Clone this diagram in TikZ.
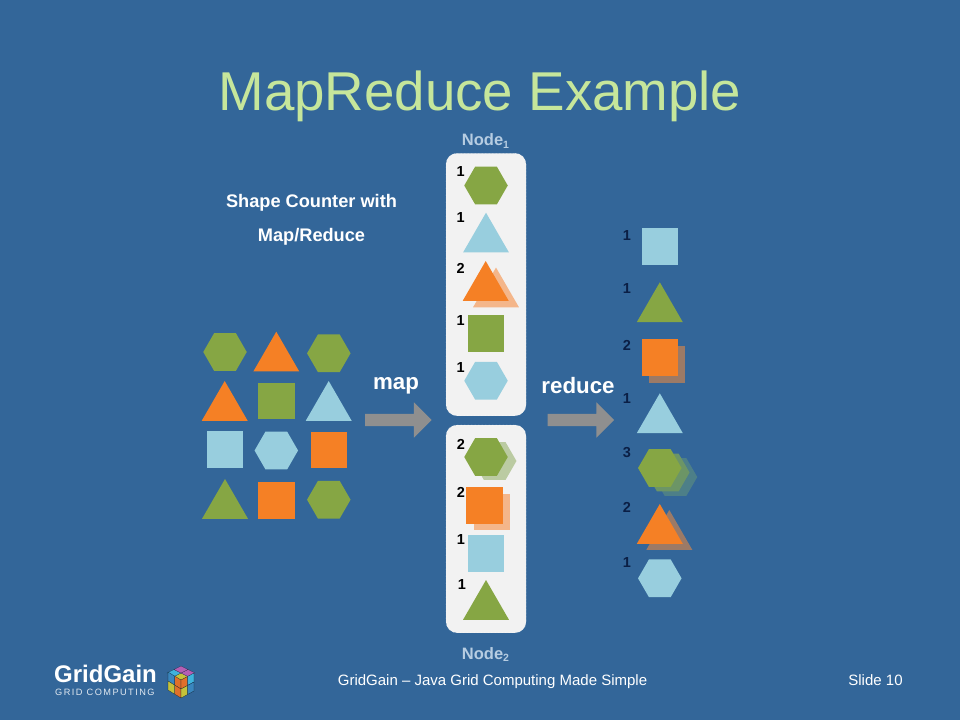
\documentclass[tikz,border=0pt]{standalone}
\usepackage{fontspec}
\setmainfont{Liberation Sans}
\usetikzlibrary{shapes.geometric, shapes.arrows}
\definecolor{slidebg}{HTML}{336699}
\definecolor{titlegreen}{HTML}{C6E69B}
\definecolor{nodegray}{HTML}{B7CDE2}
\definecolor{sgreen}{HTML}{86A644}
\definecolor{sorange}{HTML}{F58025}
\definecolor{sblue}{HTML}{98CEDE}
\definecolor{navy}{HTML}{0B1F45}
\definecolor{paleorange}{HTML}{F4B68A}
\definecolor{palegreen}{HTML}{BBCBA2}
\definecolor{darkshade}{HTML}{9C7A66}
\definecolor{hexmid}{HTML}{6C9566}
\definecolor{hexfar}{HTML}{4D7F88}
\definecolor{cubecyan}{HTML}{3FB3DC}
\definecolor{cubepurple}{HTML}{B45FB4}
\definecolor{cubeyellow}{HTML}{C4C23A}
\definecolor{cubeorange}{HTML}{E0702A}
\definecolor{cubeviolet}{HTML}{7A4596}
\definecolor{cubeblue}{HTML}{3A86BE}
\begin{document}
\begin{tikzpicture}[x=1pt,y=-1pt,
  hexa/.style={regular polygon,regular polygon sides=6,minimum size=43.5pt,inner sep=0pt,outer sep=0pt,fill=#1},
  tri/.style={regular polygon,regular polygon sides=3,minimum size=53pt,inner sep=0pt,outer sep=0pt,fill=#1},
  sqr/.style={rectangle,minimum size=36.5pt,inner sep=0pt,outer sep=0pt,fill=#1},
  count/.style={font=\bfseries\fontsize{14.5}{14.5}\selectfont,text=black,inner sep=0pt},
  rcount/.style={count,text=navy},
  bluebox/.style={rounded corners=11pt,fill=black!5,draw=white,densely dotted,minimum width=80pt,inner sep=0pt,outer sep=0pt},
  flow/.style={single arrow,fill=black!44,minimum height=66.5pt,single arrow head extend=11.5pt,inner xsep=0pt,inner ysep=6pt,outer sep=0pt},
  caption/.style={font=\bfseries\fontsize{18.2}{18.2}\selectfont,text=white,inner sep=0pt,anchor=base},
  opname/.style={font=\bfseries\fontsize{22.3}{22.3}\selectfont,text=white,inner sep=0pt,anchor=base},
  nodename/.style={font=\bfseries\fontsize{16.5}{16.5}\selectfont,text=nodegray,inner sep=0pt,anchor=base},
  foot/.style={font=\fontsize{15}{15}\selectfont,text=white,inner sep=0pt,anchor=base},
  tile/.style={fill=#1,draw=black!70!slidebg,line width=0.2pt,line join=round}]
  \fill[slidebg] (0,0) rectangle (960,720);
  \useasboundingbox (0,0) rectangle (960,720);

  \node[font=\fontsize{54.7}{54.7}\selectfont,text=titlegreen,inner sep=0pt,anchor=base] (title) at (480,110) {MapReduce Example};
  \node[caption] (cap1) at (311.5,207.7) {Shape Counter with};
  \node[caption] (cap2) at (311.5,241.7) {Map/Reduce};

  % input grid
  \node[hexa=sgreen] (a1) at (225,352) {};
  \node[tri=sorange] (a2) at (276.3,358.2) {};
  \node[hexa=sgreen] (a3) at (328.8,353.3) {};
  \node[tri=sorange] (b1) at (224.7,407.5) {};
  \node[sqr=sgreen] (b2) at (276.3,400.8) {};
  \node[tri=sblue] (b3) at (328.7,407.5) {};
  \node[sqr=sblue] (c1) at (224.8,449.5) {};
  \node[hexa=sblue] (c2) at (276.3,450.5) {};
  \node[sqr=sorange] (c3) at (328.8,449.8) {};
  \node[tri=sgreen] (d1) at (225,505.5) {};
  \node[sqr=sorange] (d2) at (276.3,500.5) {};
  \node[hexa=sgreen] (d3) at (328.8,499.7) {};

  \node[opname] (map) at (396,389) {map};
  \node[flow] (maparrow) at (395.2,420) {};
  \node[opname] (reduce) at (578,393.3) {reduce};
  \node[flow] (redarrow) at (577.8,420) {};

  % node one
  \node[nodename] (n1) at (485.5,145.7) {Node\raisebox{-2.5pt}{\fontsize{10.5}{10.5}\selectfont 1}};
  \node[bluebox,minimum height=262.5pt] (box1) at (486,284.5) {};
  \node[hexa=sgreen] (p1) at (486,185.5) {};
  \node[tri=sblue] (p2) at (486,239.2) {};
  \node[tri=paleorange] (p3s) at (496,294) {};
  \node[tri=sorange] (p3) at (485.7,287.5) {};
  \node[sqr=sgreen] (p4) at (486,333.7) {};
  \node[hexa=sblue] (p5) at (486,380.7) {};
  \node[count] at (460.7,171.7) {1};
  \node[count] at (460.7,217.7) {1};
  \node[count] at (460.7,268.3) {2};
  \node[count] at (460.7,321) {1};
  \node[count] at (460.7,367.3) {1};

  % node two
  \node[bluebox,minimum height=207.7pt] (box2) at (486,528.9) {};
  \node[nodename] (n2) at (485.5,659) {Node\raisebox{-2.5pt}{\fontsize{10.5}{10.5}\selectfont 2}};
  \node[hexa=palegreen] (q1s) at (494.7,461) {};
  \node[hexa=sgreen] (q1) at (486,457) {};
  \node[sqr=paleorange] (q2s) at (492,512) {};
  \node[sqr=sorange] (q2) at (484.7,505.7) {};
  \node[sqr=sblue] (q3) at (486,553.3) {};
  \node[tri=sgreen] (q4) at (486,606.5) {};
  \node[count] at (461,444.3) {2};
  \node[count] at (461,492.3) {2};
  \node[count] at (461,540) {1};
  \node[count] at (462,585) {1};

  % output column
  \node[sqr=sblue] (r1) at (659.8,246.5) {};
  \node[tri=sgreen] (r2) at (659.8,308.8) {};
  \node[sqr=darkshade] (r3s) at (667,364.3) {};
  \node[sqr=sorange] (r3) at (659.8,357.3) {};
  \node[tri=sblue] (r4) at (659.8,419.8) {};
  \node[hexa=hexfar] (r5t) at (675.5,477) {};
  \node[hexa=hexmid] (r5s) at (667.8,472.5) {};
  \node[hexa=sgreen] (r5) at (659.8,468) {};
  \node[tri=darkshade] (r6s) at (669.3,536.5) {};
  \node[tri=sorange] (r6) at (659.8,530.5) {};
  \node[hexa=sblue] (r7) at (659.8,578.3) {};
  \node[rcount] at (627,235.7) {1};
  \node[rcount] at (627,288.3) {1};
  \node[rcount] at (627,345) {2};
  \node[rcount] at (627,398.3) {1};
  \node[rcount] at (627,452.3) {3};
  \node[rcount] at (627,507.3) {2};
  \node[rcount] at (627,562.3) {1};

  % footer
  \node[font=\bfseries\fontsize{24}{24}\selectfont,text=white,inner sep=0pt,anchor=base west] (logo) at (54,682.7) {GridGain};
  \node[font=\fontsize{9.2}{9.2}\selectfont,text=white!85!slidebg,inner sep=0pt,anchor=base west] (logosub) at (55,695.7) {\addfontfeature{LetterSpace=16}GRID COMPUTING};
  \node[foot] (foottext) at (492.5,685) {GridGain -- Java Grid Computing Made Simple};
  \node[foot] (slideno) at (875.5,685) {Slide 10};

  % logo cube
  \begin{scope}[shift={(181,680)}]
    \foreach \i/\j/\col in {0/0/cubeyellow,1/0/cubepurple,0/1/cubecyan,1/1/cubepurple}
      \draw[tile=\col,x={(7pt,3.5pt)},y={(-7pt,3.5pt)}] (\i,\j) -- ++(1,0) -- ++(0,1) -- ++(-1,0) -- cycle;
    \foreach \i/\j/\col in {0/0/cubeorange,1/0/cubeblue,0/1/cubeorange,1/1/cubeyellow}
      \draw[tile=\col,x={(-6.5pt,4pt)},y={(0pt,-9pt)}] (\i,\j) -- ++(1,0) -- ++(0,1) -- ++(-1,0) -- cycle;
    \foreach \i/\j/\col in {0/0/cubeorange,1/0/cubecyan,0/1/cubeyellow,1/1/cubeblue}
      \draw[tile=\col,x={(6.5pt,3.5pt)},y={(0pt,-9pt)}] (\i,\j) -- ++(1,0) -- ++(0,1) -- ++(-1,0) -- cycle;
  \end{scope}
\end{tikzpicture}
\end{document}
